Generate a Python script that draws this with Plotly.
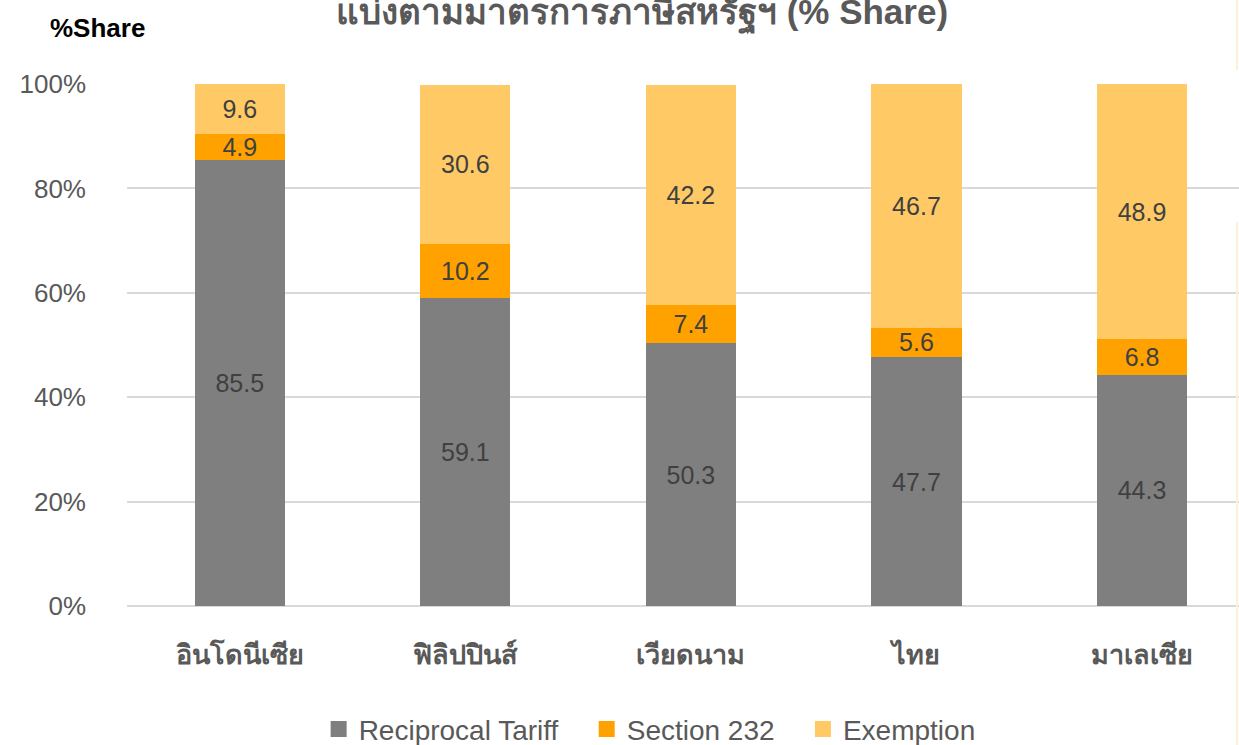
import plotly.graph_objects as go

countries = ["อินโดนีเซีย", "ฟิลิปปินส์", "เวียดนาม", "ไทย", "มาเลเซีย"]
reciprocal = [85.5, 59.1, 50.3, 47.7, 44.3]
section232 = [4.9, 10.2, 7.4, 5.6, 6.8]
exemption = [9.6, 30.6, 42.2, 46.7, 48.9]
y_ticks = [0, 20, 40, 60, 80, 100]
y_tick_labels = ["0%", "20%", "40%", "60%", "80%", "100%"]

series = [
    ("Reciprocal Tariff", reciprocal, "#7F7F7F"),
    ("Section 232", section232, "#FFA200"),
    ("Exemption", exemption, "#FFCA66"),
]

FONT = "Liberation Sans, Arial, Noto Sans, sans-serif"

fig = go.Figure()
for name, vals, col in series:
    fig.add_trace(go.Bar(
        x=countries, y=vals, name=name, marker_color=col,
        marker_line_width=0, width=0.4, showlegend=False,
        text=[f"{v:.1f}" for v in vals], textposition="inside",
        insidetextanchor="middle", textangle=0,
        textfont=dict(size=25, color="#404040", family=FONT),
    ))
# legend entries with larger square symbols
n = len(series)
for i, (name, vals, col) in enumerate(series):
    pad = "\u00a0" * 3 if i < n - 1 else ""
    fig.add_trace(go.Scatter(
        x=[None], y=[None], mode="markers", name=name + pad,
        marker=dict(symbol="square", size=16, color=col),
    ))

fig.update_layout(
    barmode="stack",
    width=1239, height=745,
    margin=dict(l=127, r=0, t=84, b=139, autoexpand=False),
    plot_bgcolor="white", paper_bgcolor="white",
    font=dict(family=FONT, color="#595959"),
    uniformtext=dict(mode="show", minsize=25),
    title=dict(text="<b>แบ่งตามมาตรการภาษีสหรัฐฯ (% Share)</b>",
               x=642 / 1239, xanchor="center", y=1 - 12 / 745, yanchor="middle",
               font=dict(size=35, color="#595959", family=FONT)),
    legend=dict(orientation="h", x=0.47, xanchor="center", y=-0.236, yanchor="middle",
                font=dict(size=28, color="#595959", family=FONT), itemwidth=30,
                traceorder="normal"),
    xaxis=dict(range=[-0.5, 4.43], showgrid=False, showline=False, ticks="",
               automargin=False, ticklabelstandoff=30,
               tickfont=dict(size=27, color="#595959", family="Noto Sans, sans-serif"),
               tickvals=countries, ticktext=[f"<b>{c}</b>" for c in countries]),
    yaxis=dict(range=[0, 100], tickvals=y_ticks, ticktext=y_tick_labels,
               showgrid=True, gridcolor="#D9D9D9", gridwidth=1.5,
               zeroline=True, zerolinecolor="#D9D9D9", zerolinewidth=1.5,
               ticks="", ticklabelstandoff=40, automargin=False,
               tickfont=dict(size=26, color="#595959", family=FONT)),
    annotations=[dict(text="<b>%Share</b>", xref="paper", yref="paper",
                      x=(97 - 127) / 1112, y=(606 - 28) / 522,
                      xanchor="center", yanchor="middle", showarrow=False,
                      font=dict(size=26, color="#000000", family=FONT))],
    shapes=[
        dict(type="line", xref="paper", yref="paper", x0=(1237 - 127) / 1112, x1=(1237 - 127) / 1112,
             y0=(606 - 0) / 522, y1=(606 - 70) / 522, line=dict(color="#FFF0D6", width=2)),
        dict(type="line", xref="paper", yref="paper", x0=(1237 - 127) / 1112, x1=(1237 - 127) / 1112,
             y0=(606 - 222) / 522, y1=(606 - 745) / 522, line=dict(color="#FFF0D6", width=2)),
    ],
)

fig.write_html("out.html", config={"displayModeBar": False},
               post_script="document.body.style.margin='0';")
